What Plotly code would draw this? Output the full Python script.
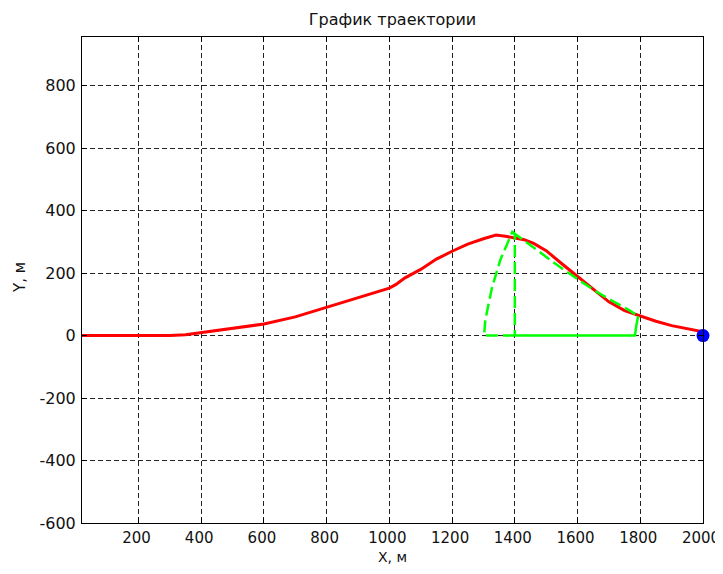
import plotly.graph_objects as go

# Trajectory (red)
traj_x = [20, 300, 350, 400, 500, 600, 700, 800, 900, 1000, 1020, 1050, 1100, 1150, 1200,
          1250, 1300, 1340, 1370, 1400, 1430, 1460, 1500, 1550, 1600, 1650, 1700, 1750,
          1800, 1850, 1900, 1950, 2000]
traj_y = [0, 0, 3, 10, 22, 37, 60, 90, 120, 152, 163, 185, 212, 245, 270,
          293, 310, 322, 318, 313, 307, 295, 272, 230, 190, 148, 108, 80,
          62, 46, 32, 22, 12]

# Zone boundary, dashed part (green)
zone_dash_x = [1400, 1302, 1306, 1328, 1354, 1376, 1392, 1400, 1400]
zone_dash_y = [0, 0, 51, 157, 243, 297, 332, 325, 0]
zone_arc_x = [1392, 1447, 1500, 1553, 1607, 1658, 1713, 1767, 1793]
zone_arc_y = [332, 291, 254, 213, 176, 142, 110, 80, 62]

# Zone boundary, solid part (green)
zone_solid_x = [1400, 1783, 1787, 1793]
zone_solid_y = [0, 0, 30, 62]

# Target point (blue)
target_x = [2000]
target_y = [0]

x_ticks = [200, 400, 600, 800, 1000, 1200, 1400, 1600, 1800, 2000]
x_labels = ["200", "400", "600", "800", "1000", "1200", "1400", "1600", "1800", "2000"]
y_ticks = [-600, -400, -200, 0, 200, 400, 600, 800]
y_labels = ["-600", "-400", "-200", "0", "200", "400", "600", "800"]

FONT = "DejaVu Sans, Arial"
TXT = "#111111"

fig = go.Figure()
fig.add_trace(go.Scatter(x=traj_x, y=traj_y, mode="lines",
                         line=dict(color="#ff0000", width=3)))
fig.add_trace(go.Scatter(x=zone_dash_x, y=zone_dash_y, mode="lines",
                         line=dict(color="#00ff00", width=2.5, dash="12px,5px")))
fig.add_trace(go.Scatter(x=zone_arc_x, y=zone_arc_y, mode="lines",
                         line=dict(color="#00ff00", width=2.5, dash="12px,5px")))
fig.add_trace(go.Scatter(x=zone_solid_x, y=zone_solid_y, mode="lines",
                         line=dict(color="#00ff00", width=2.5)))
fig.add_trace(go.Scatter(x=target_x, y=target_y, mode="markers",
                         marker=dict(color="#0000ff", size=13), cliponaxis=False))

axis_common = dict(
    showline=True, linecolor="black", linewidth=1, mirror="ticks",
    ticks="inside", ticklen=5, tickcolor="black",
    showgrid=True, gridcolor="#222222", gridwidth=1, griddash="5px,3px",
    zeroline=False, automargin=False, ticklabeloverflow="allow",
)

fig.update_layout(
    width=715, height=558,
    margin=dict(l=74, r=20, t=29, b=43),
    paper_bgcolor="white", plot_bgcolor="white",
    showlegend=False,
    title=dict(text="График траектории", x=0.5, xref="paper", xanchor="center",
               y=1 - 11 / 558, yanchor="middle",
               font=dict(family=FONT, size=16, color=TXT)),
    xaxis=dict(range=[20, 2000], tickvals=x_ticks, ticktext=x_labels,
               ticklabelstandoff=1, ticklabelshift=-2,
               tickfont=dict(family=FONT, size=15, color=TXT), **axis_common),
    yaxis=dict(range=[-600, 956], tickvals=y_ticks, ticktext=y_labels,
               ticklabelstandoff=2,
               tickfont=dict(family=FONT, size=16, color=TXT), **axis_common),
    annotations=[
        dict(text="X, м", xref="paper", yref="paper", x=0.5, y=0, xanchor="center",
             yanchor="middle", yshift=-34, showarrow=False,
             font=dict(family=FONT, size=14, color=TXT)),
        dict(text="Y, м", xref="paper", yref="paper", x=0, y=0.5, xanchor="center",
             yanchor="middle", xshift=-62, yshift=2, textangle=-90, showarrow=False,
             font=dict(family=FONT, size=15, color=TXT)),
    ],
)

fig.write_html("out.html")
